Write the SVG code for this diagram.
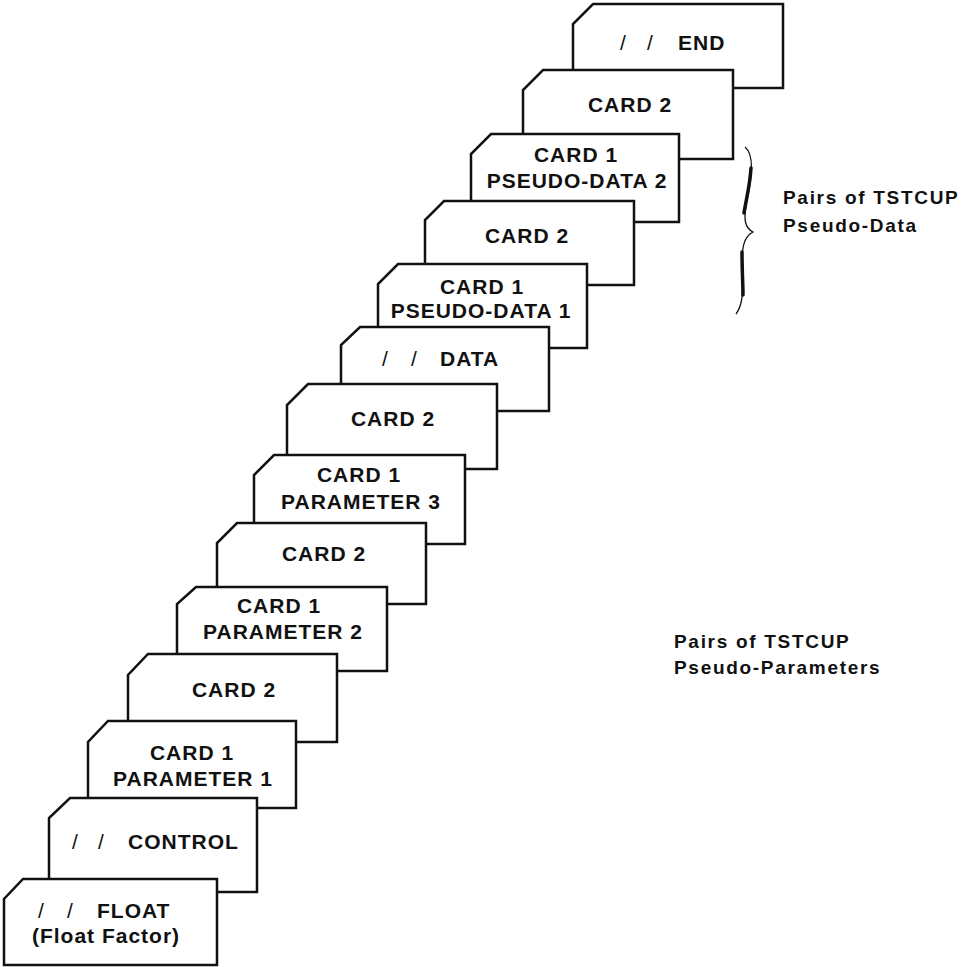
<svg xmlns="http://www.w3.org/2000/svg" width="963" height="967" viewBox="0 0 963 967">
<style>
.card{fill:#fff;stroke:#111;stroke-width:2.5;stroke-linejoin:miter}
.t{font-family:"Liberation Sans",Arial,sans-serif;font-size:21px;font-weight:bold;letter-spacing:1px;fill:#111;text-anchor:middle}
.s{font-family:"Liberation Sans",Arial,sans-serif;font-size:21px;font-weight:normal;fill:#111}
.b{font-family:"Liberation Sans",Arial,sans-serif;font-size:21px;font-weight:bold;letter-spacing:1px;fill:#111}
.n{font-family:"Liberation Sans",Arial,sans-serif;font-size:19px;font-weight:bold;letter-spacing:1.7px;fill:#111}
</style>
<rect width="963" height="967" fill="#fff"/>
<g id="card-end"><path class="card" d="M593,4 L783,4 L783,88 L573,88 L573,24 Z"/><text class="s" y="50"><tspan x="620">/</tspan><tspan x="647">/</tspan></text><text class="b" x="678" y="50">END</text></g>
<g id="card-2a"><path class="card" d="M543,70 L733,70 L733,159 L523,159 L523,90 Z"/><text class="t" x="630" y="112">CARD 2</text></g>
<g id="card-pd2"><path class="card" d="M491,134 L679,134 L679,222 L471,222 L471,154 Z"/><text class="t" x="576" y="162">CARD 1</text><text class="t" x="577" y="188">PSEUDO-DATA 2</text></g>
<g id="card-2b"><path class="card" d="M444,201 L634,201 L634,285 L425,285 L425,220 Z"/><text class="t" x="527" y="243">CARD 2</text></g>
<g id="card-pd1"><path class="card" d="M398,264 L587,264 L587,348 L378,348 L378,284 Z"/><text class="t" x="482" y="294">CARD 1</text><text class="t" x="481" y="318">PSEUDO-DATA 1</text></g>
<g id="card-data"><path class="card" d="M360,327 L549,327 L549,411 L341,411 L341,345 Z"/><text class="s" y="366"><tspan x="382">/</tspan><tspan x="411">/</tspan></text><text class="b" x="440" y="366">DATA</text></g>
<g id="card-2c"><path class="card" d="M308,384 L497,384 L497,469 L287,469 L287,405 Z"/><text class="t" x="393" y="426">CARD 2</text></g>
<g id="card-p3"><path class="card" d="M274,455 L465,455 L465,544 L254,544 L254,475 Z"/><text class="t" x="359" y="482">CARD 1</text><text class="t" x="361" y="509">PARAMETER 3</text></g>
<g id="card-2d"><path class="card" d="M237,523 L426,523 L426,604 L217,604 L217,543 Z"/><text class="t" x="324" y="561">CARD 2</text></g>
<g id="card-p2"><path class="card" d="M196,587 L387,587 L387,671 L177,671 L177,604 Z"/><text class="t" x="279" y="613">CARD 1</text><text class="t" x="283" y="639">PARAMETER 2</text></g>
<g id="card-2e"><path class="card" d="M148,654 L337,654 L337,742 L128,742 L128,675 Z"/><text class="t" x="234" y="697">CARD 2</text></g>
<g id="card-p1"><path class="card" d="M108,721 L296,721 L296,808 L88,808 L88,742 Z"/><text class="t" x="192" y="760">CARD 1</text><text class="t" x="193" y="786">PARAMETER 1</text></g>
<g id="card-control"><path class="card" d="M70,798 L257,798 L257,892 L49,892 L49,818 Z"/><text class="s" y="849"><tspan x="72">/</tspan><tspan x="98">/</tspan></text><text class="b" x="128" y="849">CONTROL</text></g>
<g id="card-float"><path class="card" d="M23,879 L217,879 L217,965 L4,965 L4,899 Z"/><text class="s" y="918"><tspan x="38">/</tspan><tspan x="67">/</tspan></text><text class="b" x="97" y="918">FLOAT</text><text class="t" x="106" y="943">(Float Factor)</text></g>
<g id="connectors">
<path d="M745,147 C755,155 752,178 747,200 C743,220 745,228 753,232 C745,236 742,245 742,262 C742,285 745,302 736,314" fill="none" stroke="#111" stroke-width="1.3"/>
<path d="M751,168 C750,185 746,200 744,213" fill="none" stroke="#111" stroke-width="3.5" stroke-linecap="round"/>
<path d="M742,252 C742,270 743,285 743,295" fill="none" stroke="#111" stroke-width="3.5" stroke-linecap="round"/>
</g>
<g id="labels">
<text class="n" x="783" y="204">Pairs of TSTCUP</text>
<text class="n" x="783" y="232">Pseudo-Data</text>
<text class="n" x="674" y="648">Pairs of TSTCUP</text>
<text class="n" x="674" y="674">Pseudo-Parameters</text>
</g>
</svg>
